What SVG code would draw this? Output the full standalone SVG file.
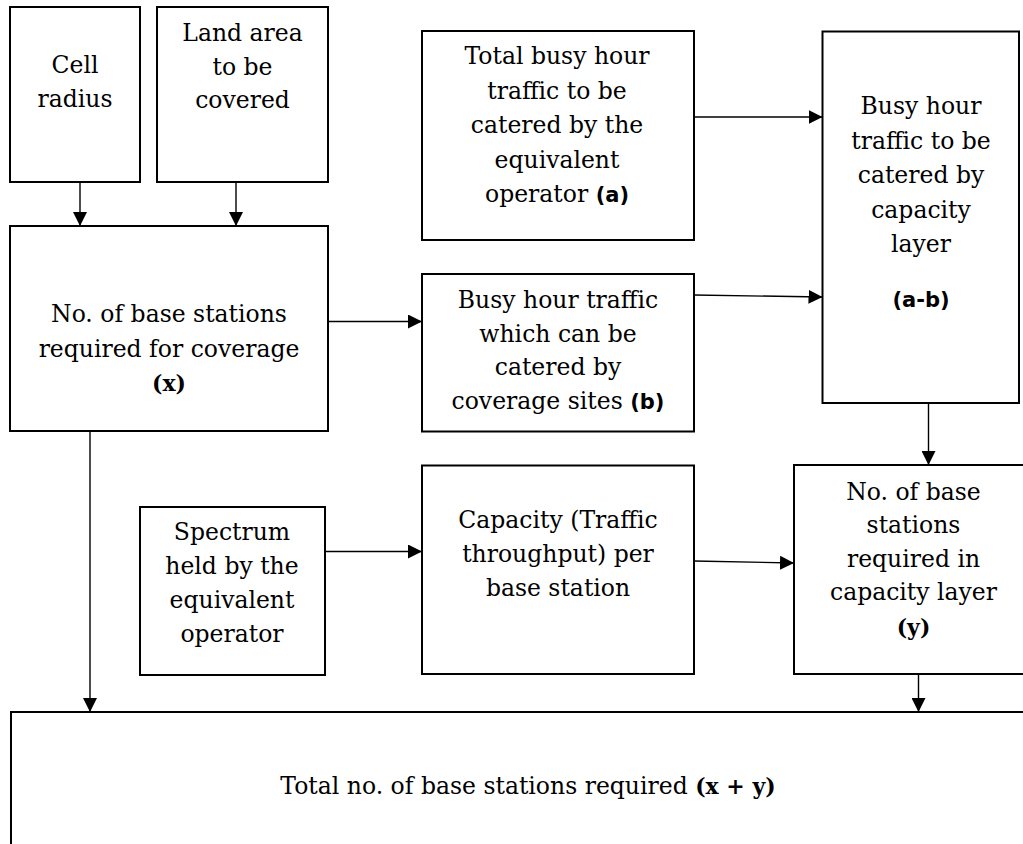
<svg xmlns="http://www.w3.org/2000/svg" width="1023" height="844" viewBox="0 0 1023 844">
  <defs>
    <style>
      .box { fill: #ffffff; stroke: #000000; stroke-width: 2; }
      .t { font-family: "DejaVu Serif", "Liberation Serif", serif; font-size: 23.5px; fill: #000000; text-anchor: middle; }
      .bs { font-family: "DejaVu Sans", "Liberation Sans", sans-serif; font-weight: bold; font-size: 21px; }
      .bserif { font-family: "DejaVu Serif", "Liberation Serif", serif; font-weight: bold; font-size: 22px; }
      .conn { fill: none; stroke: #000000; stroke-width: 1.4; marker-end: url(#arrow); }
    </style>
    <marker id="arrow" markerUnits="userSpaceOnUse" markerWidth="14" markerHeight="14" refX="14" refY="7" orient="auto">
      <path d="M0,0 L14,7 L0,14 Z" fill="#000000"/>
    </marker>
  </defs>

  <rect width="1023" height="844" fill="#ffffff"/>

  <!-- input: cell radius -->
  <g id="cell-radius">
    <rect class="box" x="10" y="7" width="130" height="175"/>
    <text class="t"><tspan x="75" y="73">Cell</tspan><tspan x="75" y="107">radius</tspan></text>
  </g>

  <!-- input: land area -->
  <g id="land-area">
    <rect class="box" x="157" y="7" width="171" height="175"/>
    <text class="t"><tspan x="242.5" y="41">Land area</tspan><tspan x="242.5" y="74.5">to be</tspan><tspan x="242.5" y="108">covered</tspan></text>
  </g>

  <!-- coverage base stations -->
  <g id="coverage-bs">
    <rect class="box" x="10" y="226" width="318" height="205"/>
    <text class="t"><tspan x="169" y="322">No. of base stations</tspan><tspan x="169" y="356.5">required for coverage</tspan><tspan x="169" y="391" class="bserif">(x)</tspan></text>
  </g>

  <!-- total busy hour traffic -->
  <g id="total-traffic">
    <rect class="box" x="422" y="31" width="272" height="209"/>
    <text class="t"><tspan x="557" y="64">Total busy hour</tspan><tspan x="557" y="98.5">traffic to be</tspan><tspan x="557" y="133">catered by the</tspan><tspan x="557" y="167.5">equivalent</tspan><tspan x="557" y="202">operator <tspan class="bs">(a)</tspan></tspan></text>
  </g>

  <!-- traffic catered by coverage sites -->
  <g id="coverage-traffic">
    <rect class="box" x="422" y="274" width="272" height="157.5"/>
    <text class="t"><tspan x="558" y="308">Busy hour traffic</tspan><tspan x="558" y="341.5">which can be</tspan><tspan x="558" y="375">catered by</tspan><tspan x="558" y="408.5">coverage sites <tspan class="bs">(b)</tspan></tspan></text>
  </g>

  <!-- traffic for capacity layer -->
  <g id="capacity-traffic">
    <rect class="box" x="822.5" y="31.5" width="196.5" height="371.5"/>
    <text class="t"><tspan x="921" y="114">Busy hour</tspan><tspan x="921" y="148.5">traffic to be</tspan><tspan x="921" y="183">catered by</tspan><tspan x="921" y="217.5">capacity</tspan><tspan x="921" y="252">layer</tspan><tspan x="921" y="307" class="bs">(a-b)</tspan></text>
  </g>

  <!-- spectrum -->
  <g id="spectrum">
    <rect class="box" x="140" y="507" width="185" height="168"/>
    <text class="t"><tspan x="232" y="540">Spectrum</tspan><tspan x="232" y="574">held by the</tspan><tspan x="232" y="608">equivalent</tspan><tspan x="232" y="642">operator</tspan></text>
  </g>

  <!-- capacity per base station -->
  <g id="bs-capacity">
    <rect class="box" x="422" y="465.5" width="272" height="208.5"/>
    <text class="t"><tspan x="558" y="528">Capacity (Traffic</tspan><tspan x="558" y="562">throughput) per</tspan><tspan x="558" y="596">base station</tspan></text>
  </g>

  <!-- capacity layer base stations -->
  <g id="capacity-bs">
    <rect class="box" x="794" y="465" width="239" height="209"/>
    <text class="t"><tspan x="913.5" y="499.5">No. of base</tspan><tspan x="913.5" y="533">stations</tspan><tspan x="913.5" y="566.5">required in</tspan><tspan x="913.5" y="600">capacity layer</tspan><tspan x="913.5" y="635" class="bserif">(y)</tspan></text>
  </g>

  <!-- total base stations -->
  <g id="total-bs">
    <rect class="box" x="11" y="712" width="1034" height="150"/>
    <text class="t" x="528" y="794">Total no. of base stations required <tspan class="bserif">(x + y)</tspan></text>
  </g>

  <!-- connectors -->
  <g id="connectors">
    <line class="conn" x1="80" y1="182" x2="80" y2="226"/>
    <line class="conn" x1="236" y1="182" x2="236" y2="226"/>
    <line class="conn" x1="328" y1="321.5" x2="422" y2="321.5"/>
    <line class="conn" x1="694" y1="117" x2="822.5" y2="117"/>
    <line class="conn" x1="694" y1="295" x2="822.5" y2="297"/>
    <line class="conn" x1="928.5" y1="403" x2="928.5" y2="465"/>
    <line class="conn" x1="325" y1="551.5" x2="422" y2="551.5"/>
    <line class="conn" x1="694" y1="561" x2="794" y2="563"/>
    <line class="conn" x1="90" y1="431" x2="90" y2="712"/>
    <line class="conn" x1="918.5" y1="674" x2="918.5" y2="712"/>
  </g>
</svg>
